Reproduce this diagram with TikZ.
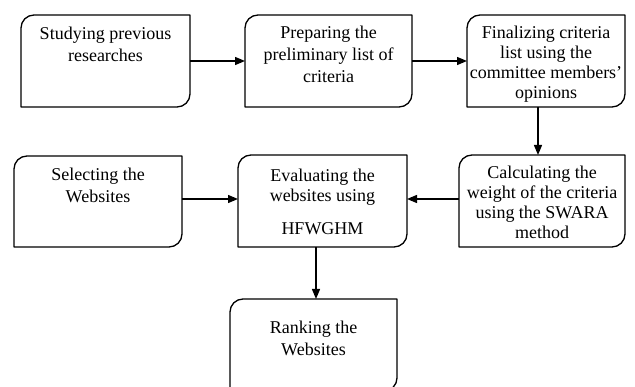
\documentclass[tikz,border=0pt]{standalone}
\usepackage{fontspec}
\setmainfont{Liberation Serif}
\usetikzlibrary{arrows.meta}
\begin{document}
\begin{tikzpicture}[x=1pt,y=1pt,
  stepbox/.style={draw=none, inner sep=0pt, outer sep=0pt},
  boxtext/.style={anchor=north, inner sep=0pt, align=center,
                  font=\fontsize{18}{22}\selectfont},
  tighttext/.style={boxtext, font=\fontsize{18}{20}\selectfont},
  flow/.style={line width=1.3pt, -{Triangle[length=10pt,width=8pt]}},
  outline/.style={line width=1.3pt, line join=round}]
\useasboundingbox (0,0) rectangle (635,386);
\clip (0,0) rectangle (635,386);

% box frames (sized placeholders)
\node[stepbox, minimum width=169pt, minimum height=92pt] (b1) at (105.5,325) {};
\node[stepbox, minimum width=167pt, minimum height=92pt] (b2) at (328.5,325) {};
\node[stepbox, minimum width=158pt, minimum height=92pt] (b3) at (546,325) {};
\node[stepbox, minimum width=168pt, minimum height=91pt] (b4) at (98,184.5) {};
\node[stepbox, minimum width=169pt, minimum height=92pt] (b5) at (322.5,185) {};
\node[stepbox, minimum width=166pt, minimum height=92pt] (b6) at (542,185) {};
\node[stepbox, minimum width=167pt, minimum height=92pt] (b7) at (313.5,41) {};

% outlines: rounded top-left and bottom-right corners
\foreach \b in {b1,b2,b3,b4,b5,b6,b7}
  \draw[outline] (\b.north east) -- ([xshift=13pt]\b.north west)
    arc[start angle=90, end angle=180, radius=13pt]
    -- (\b.south west) -- ([xshift=-13pt]\b.south east)
    arc[start angle=270, end angle=360, radius=13pt] -- cycle;

% texts
\node[boxtext] (t1) at ([yshift=-12pt]b1.north) {Studying previous\\researches};
\node[boxtext] (t2) at ([yshift=-11pt]b2.north) {Preparing the\\preliminary list of\\criteria};
\node[tighttext] (t3) at ([yshift=-11pt]b3.north) {Finalizing criteria\\list using the\\committee members'\\opinions};
\node[boxtext] (t4) at ([yshift=-11.5pt]b4.north) {Selecting the\\Websites};
\node[tighttext] (t5) at ([yshift=-14pt]b5.north) {Evaluating the\\websites using\\[13pt]HFWGHM};
\node[tighttext] (t6) at ([yshift=-10.5pt]b6.north) {Calculating the\\weight of the criteria\\using the SWARA\\method};
\node[boxtext] (t7) at ([yshift=-21.5pt]b7.north) {Ranking the\\Websites};

% connectors
\coordinate (v1) at (538,0);
\coordinate (v2) at (316,0);
\coordinate (h2) at (0,187);
\draw[flow] (b1.east) -- (b2.west);
\draw[flow] (b2.east) -- (b3.west);
\draw[flow] (b3.south -| v1) -- (b6.north -| v1);
\draw[flow] (b4.east |- h2) -- (b5.west |- h2);
\draw[flow] (b6.west |- h2) -- (b5.east |- h2);
\draw[flow] (b5.south -| v2) -- (b7.north -| v2);
\end{tikzpicture}
\end{document}
